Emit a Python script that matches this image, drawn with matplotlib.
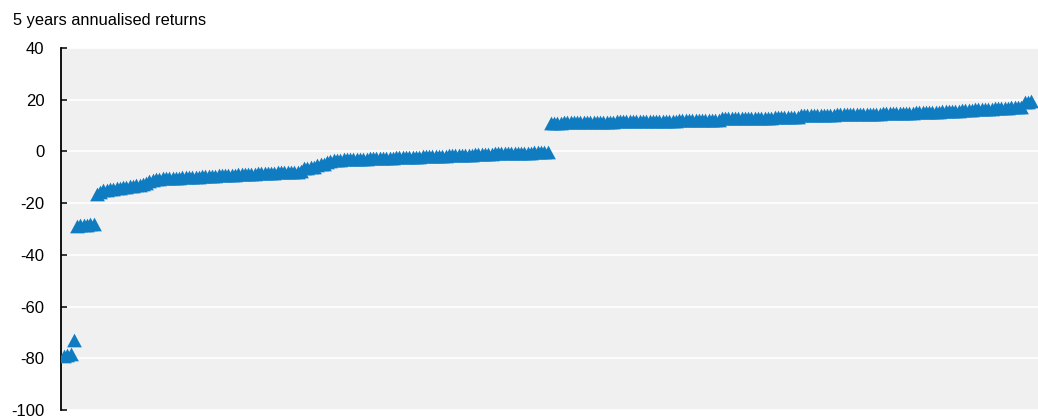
import matplotlib
matplotlib.use("Agg")
import matplotlib.pyplot as plt
from matplotlib import font_manager

names = {f.name for f in font_manager.fontManager.ttflist}
FONT = "Liberation Sans Narrow" if "Liberation Sans Narrow" in names else "Liberation Sans"
plt.rcParams['font.family'] = [FONT, 'DejaVu Sans']

title = "5 years annualised returns"
yticks = [-100, -80, -60, -40, -20, 0, 20, 40]

returns = [
    -79.0, -78.6, -78.2, -73.0,
    -28.8, -28.6, -28.5, -28.4, -28.2, -28.0,
    -16.6, -15.6, -15.1, -14.8, -14.6, -14.4, -14.2, -14.0, -13.8, -13.6,
    -13.4, -13.2, -13.0, -12.8, -12.5, -12.2, -11.6, -10.9,
    -10.6, -10.5, -10.4, -10.4, -10.3, -10.2, -10.2, -10.1, -10.0, -10.0,
    -9.9, -9.8, -9.8, -9.7, -9.6, -9.6, -9.5, -9.4, -9.4, -9.3,
    -9.2, -9.2, -9.1, -9.0, -9.0, -8.9, -8.8, -8.8, -8.7, -8.6,
    -8.6, -8.5, -8.4, -8.4, -8.3, -8.2, -8.2, -8.1, -8.0, -8.0,
    -7.9, -7.9, -7.8, -7.8, -7.7,
    -6.6, -6.4, -6.2, -6.0, -5.2, -5.0, -4.8, -4.0, -3.6,
    -3.3, -3.2, -3.2, -3.1, -3.1, -3.0, -3.0, -2.9, -2.9, -2.8,
    -2.8, -2.7, -2.7, -2.6, -2.6, -2.5, -2.5, -2.4, -2.4, -2.3,
    -2.3, -2.2, -2.2, -2.1, -2.1, -2.0, -2.0, -1.9, -1.9, -1.8,
    -1.8, -1.7, -1.7, -1.6, -1.6, -1.5, -1.5, -1.4, -1.4, -1.3,
    -1.3, -1.2, -1.2, -1.1, -1.1, -1.0, -1.0, -0.9, -0.9, -0.8,
    -0.8, -0.8, -0.7, -0.7, -0.7, -0.6, -0.6, -0.6, -0.5, -0.5,
    -0.5, -0.4, -0.4, -0.4, -0.3, -0.3,
    11.0, 11.1, 11.1, 11.1, 11.2, 11.2, 11.2, 11.2, 11.3, 11.3,
    11.3, 11.3, 11.4, 11.4, 11.4, 11.4, 11.5, 11.5, 11.5, 11.5,
    11.6, 11.6, 11.6, 11.6, 11.7, 11.7, 11.7, 11.7, 11.7, 11.8,
    11.8, 11.8, 11.8, 11.8, 11.9, 11.9, 11.9, 11.9, 11.9, 12.0,
    12.0, 12.0, 12.0, 12.0, 12.0, 12.1, 12.1, 12.1, 12.1, 12.1,
    12.1, 12.2,
    12.8, 12.8, 12.8, 12.9, 12.9, 12.9, 12.9, 13.0, 13.0, 13.0,
    13.0, 13.0, 13.1, 13.1, 13.1, 13.1, 13.2, 13.2, 13.2, 13.2,
    13.3, 13.3, 13.3, 13.4,
    14.0, 14.0, 14.0, 14.1, 14.1, 14.1, 14.1, 14.2, 14.2, 14.2,
    14.2, 14.3, 14.3, 14.3, 14.3, 14.4, 14.4, 14.4, 14.4, 14.5,
    14.5, 14.5, 14.6, 14.6, 14.6, 14.7, 14.7, 14.7, 14.8, 14.8,
    14.8, 14.9, 14.9, 15.0, 15.0, 15.1, 15.1, 15.2, 15.2, 15.3,
    15.3, 15.4, 15.4, 15.5, 15.5, 15.6, 15.6, 15.7, 15.8, 15.9,
    16.0, 16.1, 16.2, 16.3, 16.3, 16.4, 16.5, 16.5, 16.6, 16.7,
    16.7, 16.8, 16.9, 16.9, 17.0, 17.1, 17.2, 17.3,
    19.0, 19.2, 19.5,
]
funds = list(range(len(returns)))

W, H = 1038, 416
fig = plt.figure(figsize=(W / 100, H / 100), dpi=100)
ax = fig.add_axes([61 / W, (H - 410) / H, (W - 61) / W, (410 - 48) / H])
ax.set_facecolor('#f0f0f0')

tri = [(-1, -0.93), (1, -0.93), (0, 0.93), (-1, -0.93)]
ax.plot(funds, returns, linestyle='none', marker=tri, markersize=10.6,
        markeredgewidth=0, color='#0f7cc2', clip_on=True, zorder=3)

ax.set_ylim(-100, 40)
ax.set_xlim(-0.9, 296.1)
ax.set_yticks(yticks)
ax.set_yticklabels([str(v) for v in yticks])
ax.set_xticks([])
ax.grid(axis='y', color='white', linewidth=1.2, zorder=1)
ax.set_axisbelow(True)
for s in ['top', 'right', 'bottom']:
    ax.spines[s].set_visible(False)
ax.spines['left'].set_linewidth(1.3)
ax.spines['left'].set_color('black')
ax.tick_params(axis='y', direction='in', length=4.5, width=1.1, color='black',
               pad=12, labelsize=12, labelcolor='black')

fig.text(13 / W, 1 - 21 / H, title, fontsize=11.8, va='center', ha='left', color='black')

fig.savefig('out.png', dpi=100)
